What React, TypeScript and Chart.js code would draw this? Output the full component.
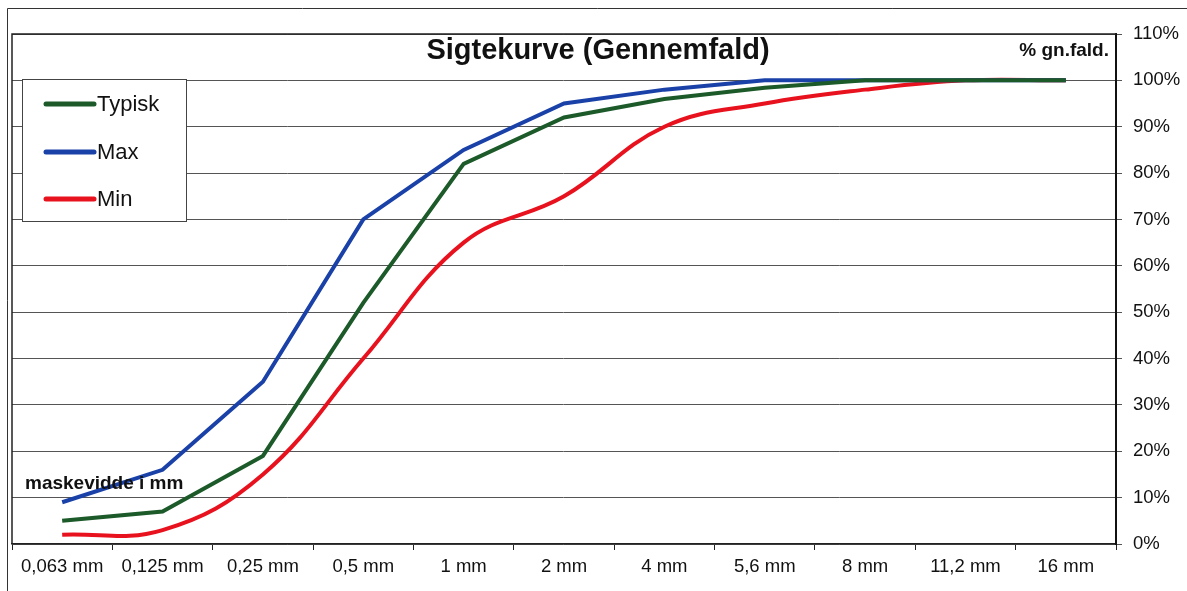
import React, { useEffect, useRef } from "react";
import { Chart, registerables } from "chart.js";

Chart.register(...registerables);

const categories = ["0,063 mm", "0,125 mm", "0,25 mm", "0,5 mm", "1 mm", "2 mm", "4 mm", "5,6 mm", "8 mm", "11,2 mm", "16 mm"];
const typisk = [5, 7, 19, 52, 82, 92, 96, 98.4, 100, 100, 100];
const maxValues = [9, 16, 35, 70, 85, 95, 98, 100, 100, 100, 100];
const minValues = [2, 3, 15, 40, 65, 75, 90, 95, 98, 100, 100];
const seriesNames = ["Typisk", "Max", "Min"];
const seriesColors = ["#1c5a2a", "#1a41a8", "#e8121e"];

const FONT = "'Liberation Sans', Arial, sans-serif";

const overlay = {
  id: "overlay",
  beforeDatasetsDraw(chart: any) {
    const { ctx, chartArea } = chart;
    ctx.save();
    ctx.strokeStyle = "#222";
    ctx.lineWidth = 1.5;
    ctx.beginPath();
    ctx.moveTo(chartArea.left, chartArea.bottom);
    ctx.lineTo(chartArea.left, chartArea.top);
    ctx.lineTo(chartArea.right, chartArea.top);
    ctx.stroke();
    ctx.restore();
  },
  afterDraw(chart: any) {
    const { ctx } = chart;
    ctx.save();
    // outer frame
    ctx.strokeStyle = "#333";
    ctx.lineWidth = 1;
    ctx.beginPath();
    ctx.moveTo(7.5, 600);
    ctx.lineTo(7.5, 8.5);
    ctx.lineTo(1200, 8.5);
    ctx.stroke();

    // title
    ctx.fillStyle = "#111";
    ctx.textBaseline = "middle";
    ctx.textAlign = "center";
    ctx.font = `bold 29px ${FONT}`;
    ctx.fillText("Sigtekurve (Gennemfald)", 598, 51);

    ctx.textAlign = "right";
    ctx.font = `bold 19px ${FONT}`;
    ctx.fillText("% gn.fald.", 1109, 51);

    ctx.textAlign = "left";
    ctx.font = `bold 19px ${FONT}`;
    ctx.fillText("maskevidde i mm", 25, 484);

    // legend
    ctx.fillStyle = "#fff";
    ctx.fillRect(22, 79, 165, 143);
    ctx.strokeStyle = "#444";
    ctx.lineWidth = 1;
    ctx.strokeRect(22.5, 79.5, 164, 142);
    const ys = [104, 152, 199];
    seriesNames.forEach((name, i) => {
      ctx.strokeStyle = seriesColors[i];
      ctx.lineWidth = 5;
      ctx.lineCap = "round";
      ctx.beginPath();
      ctx.moveTo(46, ys[i]);
      ctx.lineTo(94, ys[i]);
      ctx.stroke();
      ctx.fillStyle = "#111";
      ctx.font = `22px ${FONT}`;
      ctx.textAlign = "left";
      ctx.textBaseline = "middle";
      ctx.fillText(name, 97, ys[i] + 1);
    });
    ctx.restore();
  },
};

export default function App() {
  const ref = useRef<HTMLCanvasElement>(null);
  useEffect(() => {
    document.body.style.margin = "0";
    const chart = new Chart(ref.current!, {
      type: "line",
      data: {
        labels: categories,
        datasets: [
          { label: seriesNames[0], data: typisk, borderColor: seriesColors[0], borderWidth: 4, tension: 0, pointRadius: 0 },
          { label: seriesNames[1], data: maxValues, borderColor: seriesColors[1], borderWidth: 4, tension: 0, pointRadius: 0 },
          { label: seriesNames[2], data: minValues, borderColor: seriesColors[2], borderWidth: 4, tension: 0.4, pointRadius: 0 },
        ],
      },
      options: {
        animation: false,
        responsive: false,
        devicePixelRatio: 1,
        layout: { padding: { left: 12, top: 34, right: 0, bottom: 0 } },
        plugins: { legend: { display: false }, tooltip: { enabled: false }, title: { display: false } },
        scales: {
          x: {
            offset: true,
            grid: { offset: true, drawOnChartArea: false, drawTicks: true, tickLength: 6, color: "#222" },
            border: { display: true, color: "#222", width: 1.5 },
            ticks: { color: "#111", font: { family: FONT, size: 18.5 }, padding: 6, maxRotation: 0, autoSkip: false },
            afterFit: (s: any) => { s.height = 47; },
          },
          y: {
            position: "right",
            min: 0,
            max: 110,
            grid: { color: "#555", lineWidth: 1, drawTicks: true, tickLength: 6 },
            border: { display: true, color: "#111", width: 2 },
            ticks: { stepSize: 10, color: "#111", font: { family: FONT, size: 18.5 }, padding: 11, callback: (v: any) => v + "%" },
            afterFit: (s: any) => { s.width = 71; },
          },
        },
      },
      plugins: [overlay],
    });
    return () => chart.destroy();
  }, []);
  return (
    <div style={{ position: "absolute", left: 0, top: 0, width: 1187, height: 591, background: "#fff" }}>
      <canvas ref={ref} width={1187} height={591} style={{ width: 1187, height: 591 }} />
    </div>
  );
}
